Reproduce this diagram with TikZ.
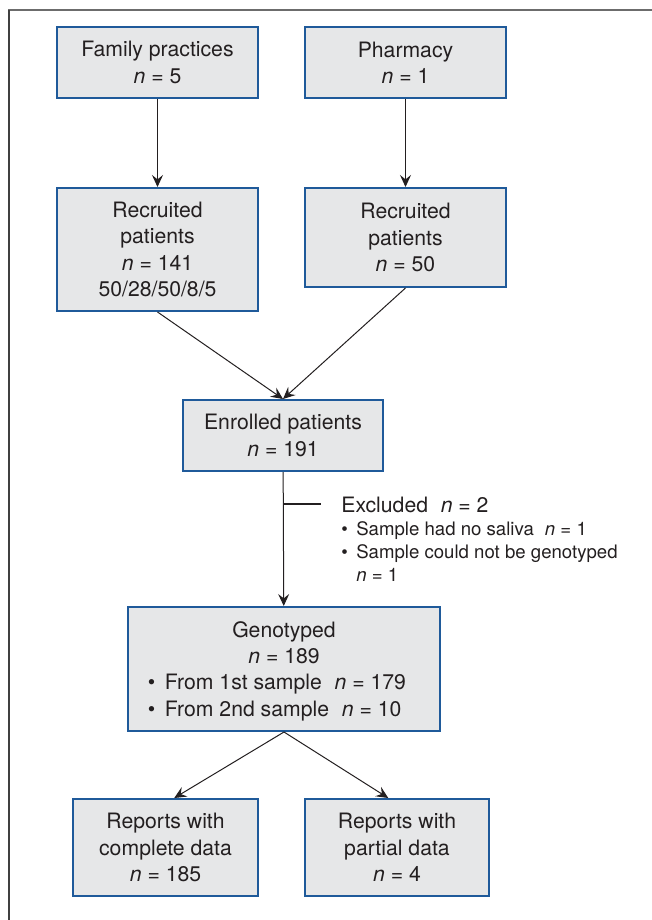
\documentclass[tikz,border=0pt]{standalone}
\usepackage{fontspec}
\setmainfont{TeX Gyre Heros}
\usetikzlibrary{arrows.meta}
\definecolor{boxblue}{HTML}{1F5A9A}
\definecolor{boxgray}{HTML}{E6E7E8}
\definecolor{inkgray}{HTML}{231F20}
\newcommand{\ncount}[1]{\textit{n} = #1}
\newcommand{\mainsz}{\fontsize{10.6}{13.2}\selectfont}
\newcommand{\smallsz}{\fontsize{9.3}{11.5}\selectfont}
\tikzset{
  box/.style={draw=boxblue, fill=boxgray, line width=1pt, align=center,
    inner sep=0pt, font=\mainsz, text=inkgray},
  flow/.style={-{Stealth[length=6pt,width=5.5pt,inset=2.2pt]},
    line width=0.5pt, draw=inkgray}
}

\begin{document}
\begin{tikzpicture}[x=0.5pt, y=-0.5pt]
  \useasboundingbox (0,0) rectangle (652,920);
  % frame
  \draw[line width=1.2pt, gray!85!black] (8,10) -- (652,10);
  \draw[line width=0.6pt, black!75] (9,10) -- (9,920);

  \node[box, minimum width=100.5pt, minimum height=35.5pt] (fam) at (157.5,62.5) {Family practices\\\ncount{5}};
  \node[box, minimum width=100.5pt, minimum height=35.5pt] (pharm) at (405.5,62.5) {Pharmacy\\\ncount{1}};
  \node[box, minimum width=100.5pt, minimum height=61.5pt] (recfam) at (157.5,249.5) {Recruited\\patients\\\ncount{141}\\50/28/50/8/5};
  \node[box, minimum width=100.5pt, minimum height=49.5pt] (recpharm) at (405.5,237.5) {Recruited\\patients\\\ncount{50}};
  \node[box, minimum width=100pt, minimum height=35.5pt] (enrolled) at (283,435.5) {Enrolled patients\\\ncount{191}};
  \node[box, minimum width=156pt, minimum height=62pt] (geno) at (284,669) {\rule{0pt}{11.7pt}Genotyped\\\ncount{189}\\
    \begin{tabular}[t]{@{}l@{\hspace{7pt}}}\textbullet\hspace{.45em}From 1st sample\hspace{.6em}\ncount{179}\\
    \textbullet\hspace{.45em}From 2nd sample\hspace{.6em}\ncount{10}\end{tabular}};
  \node[box, minimum width=92.5pt, minimum height=48.5pt] (complete) at (165.5,847.5) {Reports with\\complete data\\\ncount{185}};
  \node[box, minimum width=92pt, minimum height=48.5pt] (partial) at (397,847.5) {Reports with\\partial data\\\ncount{4}};

  % excluded
  \node[anchor=north west, align=left, inner sep=0pt, font=\smallsz, text=inkgray] (excl) at (341,497)
    {{\mainsz Excluded\hspace{.6em}\ncount{2}}\\
     \textbullet\hspace{.45em}Sample had no saliva\hspace{.6em}\ncount{1}\\
     \textbullet\hspace{.45em}Sample could not be genotyped\\
     \phantom{\textbullet\hspace{.45em}}\ncount{1}};
  \coordinate (split) at (284,504);
  \coordinate (tick) at (321,504);

  \draw[flow] (fam) -- (recfam);
  \draw[flow] (pharm) -- (recpharm);
  \draw[flow] (recfam.south) -- (enrolled.north);
  \draw[flow] (recpharm.south) -- (enrolled.north);
  \draw[flow] (enrolled) -- (geno);
  \draw[line width=0.6pt, inkgray] (split) -- (tick);
  \draw[flow] (geno.south) -- (complete.80);
  \draw[flow] (geno.south) -- (partial.100);
\end{tikzpicture}
\end{document}
